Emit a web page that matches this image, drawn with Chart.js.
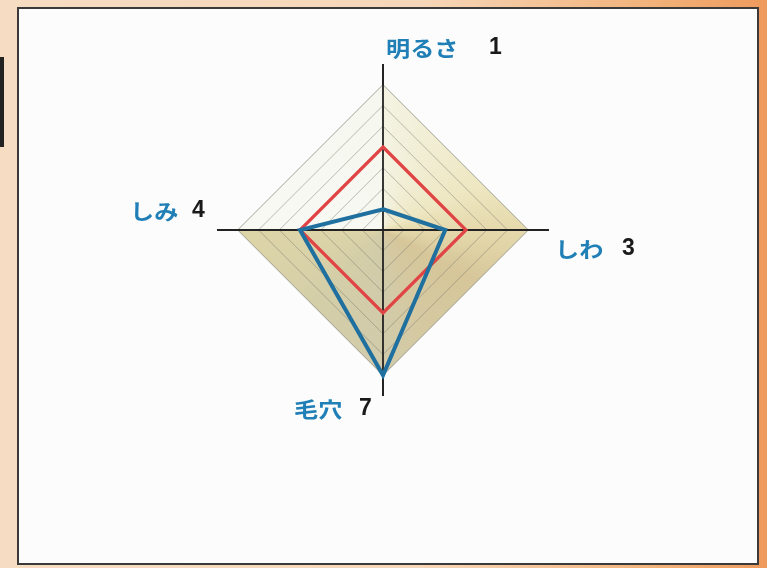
<!DOCTYPE html>
<html>
<head>
<meta charset="utf-8">
<script src="https://cdn.jsdelivr.net/npm/chart.js@4/dist/chart.umd.min.js"></script>
<style>
  html, body { margin: 0; padding: 0; }
  body {
    width: 767px; height: 568px; overflow: hidden; position: relative;
    background: linear-gradient(to right, #f6dcc2 0%, #f6d6b8 55%, #f2b27a 85%, #ee9a5c 100%);
  }
  #frame {
    position: absolute; left: 17px; top: 7px; width: 738px; height: 554px;
    border: 2px solid #3a3a3a; background: #fbfcfb;
  }
  #strip { position: absolute; left: 0; top: 57px; width: 4px; height: 90px; background: #222; }
  #c { position: absolute; left: 0; top: 0; }
</style>
</head>
<body>
<div id="strip"></div>
<div id="frame"></div>
<canvas id="c" width="767" height="568"></canvas>
<script>
// ---- data ----
const categories = ['明るさ', 'しわ', '毛穴', 'しみ'];
const blueValues = [1, 3, 7, 4];
const redValues = [4, 4, 4, 4];
const outerLevel = [7, 7, 7, 7];
const scaleMax = 8;

function bgGradient(ctx) {
  const chart = ctx.chart;
  const s = chart.scales && chart.scales.r;
  if (!s || s.xCenter === undefined || !chart.ctx.createConicGradient) return '#e6dfbd';
  const g = chart.ctx.createConicGradient(-Math.PI / 2, s.xCenter, s.yCenter);
  g.addColorStop(0.00, '#f4f3e2');
  g.addColorStop(0.18, '#eee7c2');
  g.addColorStop(0.25, '#e5d9ac');
  g.addColorStop(0.33, '#d6c699');
  g.addColorStop(0.45, '#d5c9a2');
  g.addColorStop(0.50, '#d1cbaa');
  g.addColorStop(0.62, '#d4cea8');
  g.addColorStop(0.749, '#ddd5a8');
  g.addColorStop(0.751, '#f8f9f3');
  g.addColorStop(1.00, '#f6f7ef');
  return g;
}

// redraw grid over the background fill, before the series lines
const gridOverFill = {
  id: 'gridOverFill',
  afterDatasetDraw(chart, args) {
    if (args.index === 2) {
      chart.scales.r.drawGrid();
    }
  }
};

const labelPlugin = {
  id: 'axisLabels',
  afterDraw(chart) {
    const s = chart.scales.r;
    const ctx = chart.ctx;
    const R = s.drawingArea;
    // [wordDx, numDx, dy] relative to axis end point
    const layout = [
      [3, 106, -17],
      [6, 73, 18],
      [-89, -24, 12],
      [-87, -25, -20]
    ];
    categories.forEach((word, i) => {
      const p = s.getPointPosition(i, R);
      const [wdx, ndx, dy] = layout[i];
      const y = p.y + dy;
      ctx.save();
      ctx.textBaseline = 'middle';
      ctx.textAlign = 'left';
      ctx.fillStyle = '#1f7fb6';
      ctx.font = 'bold 21px "Noto Sans CJK JP", sans-serif';
      ctx.translate(p.x + wdx, y + 1);
      ctx.scale(1.15, 1);
      ctx.fillText(word, 0, 0);
      ctx.restore();
      ctx.save();
      ctx.textBaseline = 'middle';
      ctx.textAlign = 'left';
      ctx.fillStyle = '#1a1a1a';
      ctx.font = 'bold 23px "Liberation Sans", Arial, sans-serif';
      ctx.fillText(String(blueValues[i]), p.x + ndx, y + 1);
      ctx.restore();
    });
  }
};

new Chart(document.getElementById('c'), {
  type: 'radar',
  data: {
    labels: categories,
    datasets: [
      {
        data: blueValues,
        borderColor: '#1f6f9f',
        borderWidth: 4,
        backgroundColor: 'transparent',
        fill: false,
        pointRadius: 0,
        borderJoinStyle: 'miter'
      },
      {
        data: redValues,
        borderColor: '#e04444',
        borderWidth: 3.2,
        backgroundColor: 'transparent',
        fill: false,
        pointRadius: 0,
        borderJoinStyle: 'miter'
      },
      {
        data: outerLevel,
        borderWidth: 0,
        borderColor: 'transparent',
        backgroundColor: bgGradient,
        fill: true,
        pointRadius: 0
      }
    ]
  },
  options: {
    responsive: false,
    animation: false,
    devicePixelRatio: 1,
    layout: { padding: { left: 217, right: 218, top: 64, bottom: 172 } },
    plugins: { legend: { display: false }, tooltip: { enabled: false } },
    scales: {
      r: {
        min: 0,
        max: scaleMax,
        startAngle: 0,
        ticks: { display: false, stepSize: 1 },
        pointLabels: { display: false },
        angleLines: { color: '#222222', lineWidth: 1.8 },
        grid: {
          color: (c) => (c.tick && (c.tick.value >= scaleMax || c.tick.value === 0)) ? 'rgba(0,0,0,0)' : 'rgba(120,122,110,0.5)',
          lineWidth: 1
        }
      }
    }
  },
  plugins: [gridOverFill, labelPlugin]
});
</script>
</body>
</html>
